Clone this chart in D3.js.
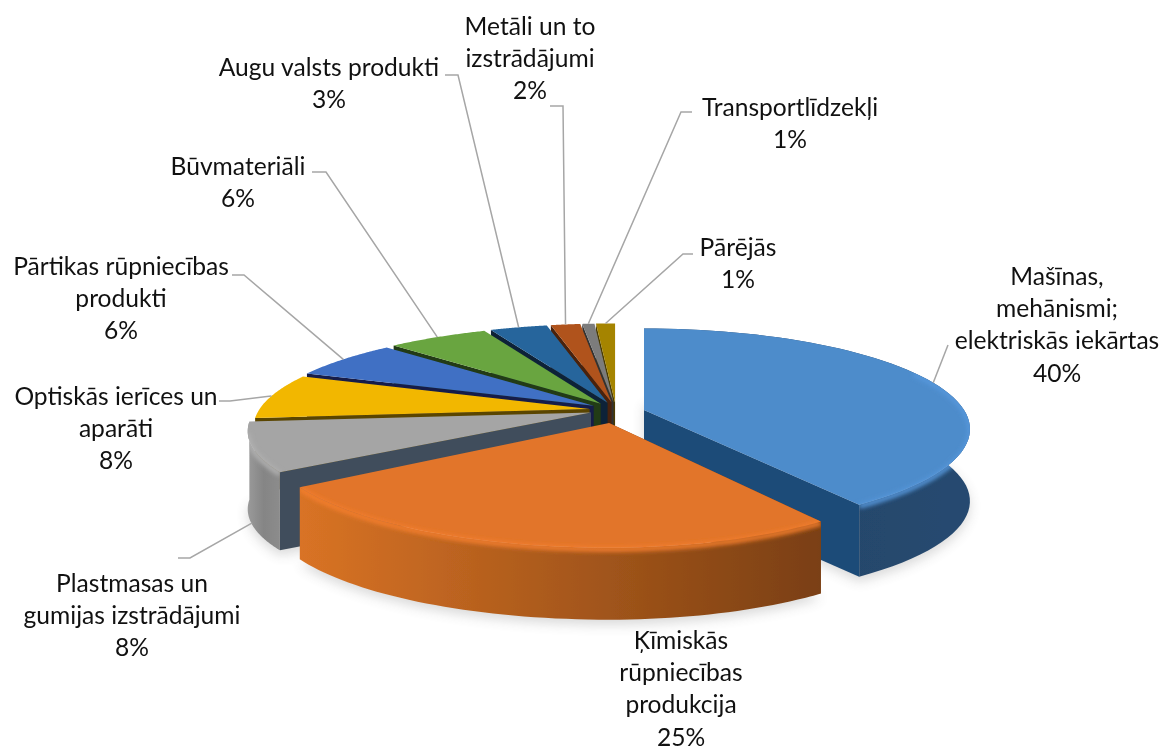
<!DOCTYPE html>
<html><head><meta charset="utf-8">
<script src="https://cdn.jsdelivr.net/npm/d3@7"></script>
<style>html,body{margin:0;padding:0;background:#fff}svg{display:block}text{font-family:Lato,"Open Sans",sans-serif;font-size:24.6px;fill:#111;text-anchor:middle}</style>
</head><body><svg id="c" width="1162" height="746"></svg>
<script>
// --- data (share of total, %) ---
const categories = ["Mašīnas, mehānismi; elektriskās iekārtas","Ķīmiskās rūpniecības produkcija","Plastmasas un gumijas izstrādājumi","Optiskās ierīces un aparāti","Pārtikas rūpniecības produkti","Būvmateriāli","Augu valsts produkti","Metāli un to izstrādājumi","Transportlīdzekļi","Pārējās"];
const values = [40.4,25,8.1,7.5,6.4,5.8,3.3,1.7,0.7,1.1];
const topColors = ["#4e8ccb","#e2752a","#a5a5a5","#f2b705","#3f6fc4","#69a53f","#25659c","#b0521a","#7c7c7c","#a58400"];
const cutColors = ["#1e4b78","#8a4514","#414d5b","#5a4500","#141f4a","#233a14","#0d2238","#4a2208","#333333","#4a3b00"];
// --- label layout: text lines, centre x, first baseline, leader elbow ---
const labelLines = [["Mašīnas,","mehānismi;","elektriskās iekārtas"],["Ķīmiskās","rūpniecības","produkcija"],["Plastmasas un","gumijas izstrādājumi"],["Optiskās ierīces un","aparāti"],["Pārtikas rūpniecības","produkti"],["Būvmateriāli"],["Augu valsts produkti"],["Metāli un to","izstrādājumi"],["Transportlīdzekļi"],["Pārējās"]];
const labelX = [1057,681,132,116,121,238,329,530,790,738];
const labelY = [285,649,592,405,275,175,76,35,116,256];
const leaderPts = [[[948,345]],null,[[178,558],[190,558]],[[219,401],[230,401]],[[232,275],[244,275]],[[312,172],[326,172]],[[445,75],[458,75]],[[550,106],[563,106]],[[692,112],[681,112]],[[693,254],[683,254]]];

// --- projection parameters ---
const cx=616, cy=410, k=0.19, E=0.075;
const pxShift = {0:[28,0],1:[-7,13]};      // strongly exploded slices
const ax = i => i===0?{l:318,r:320}:i===1?{l:335,r:315}:i===2?{l:337,r:337}:{l:330,r:330};
const by = i => i===0?97:i===1?101:94;
const depthOf = i => i===2?78:72;

const pie = d3.pie().sort(null).value(d=>d)(values);
const arcs = pie.map((p,i)=>({i,a0:p.startAngle,a1:p.endAngle,mid:(p.startAngle+p.endAngle)/2}));
function origin(s){
  if(pxShift[s.i]) return pxShift[s.i];
  return [355*E*Math.sin(s.mid),-101*E*Math.cos(s.mid)];
}
function proj(s,a,r=1,dz=0){
  const X=r*Math.sin(a),Z=r*Math.cos(a),q=1/(1+k*Z),A=ax(s.i),o=origin(s);
  return [cx+o[0]+(X<0?A.l:A.r)*X*q, cy+o[1]-by(s.i)*Z*q+dz];
}
const line=d3.line();
function rimPts(s,dz=0,from=0,to=1){return d3.range(from,to+1e-4,(to-from)/60).map(t=>proj(s,s.a0+(s.a1-s.a0)*t,1,dz));}
const svg=d3.select("#c");
const defs=svg.append("defs");
const mkBlur=(id,sd)=>defs.append("filter").attr("id",id).attr("filterUnits","userSpaceOnUse").attr("x",0).attr("y",0).attr("width",1162).attr("height",746).append("feGaussianBlur").attr("stdDeviation",sd);
mkBlur("b1",2.2);mkBlur("b2",6);mkBlur("b0",0.55);
// side gradients
const sideStops={0:["#284a6e","#24466a","#264a70"],1:["#d97325","#a9591c","#7a3f12"],2:["#9a9a9a","#858585","#8c8c8c"]};
Object.keys(sideStops).forEach(i=>{
  const s=arcs[i],xs=rimPts(s).map(p=>p[0]);
  const g=defs.append("linearGradient").attr("id","side"+i).attr("gradientUnits","userSpaceOnUse")
    .attr("x1",d3.min(xs)).attr("x2",d3.max(xs)).attr("y1",0).attr("y2",0);
  sideStops[i].forEach((c,j)=>g.append("stop").attr("offset",j/2).attr("stop-color",c));
  // silhouette of the piece: keeps the soft bevel inside its outline
  const tip=proj(s,0,0);
  const cp=defs.append("clipPath").attr("id","clip"+i);
  cp.append("path").attr("d",line([tip].concat(rimPts(s)))+"Z");
  cp.append("path").attr("d",line(rimPts(s).concat(rimPts(s,depthOf(+i)).reverse()))+"Z");
});
// soft ground shadow
const shadow=svg.append("g").attr("filter","url(#b2)").attr("opacity",0.22);
[arcs[0],arcs[1],arcs[2]].forEach(s=>{
  shadow.append("path").attr("d",line(rimPts(s,depthOf(s.i)+5).concat([proj(s,0,0,depthOf(s.i))]))+"Z").attr("fill","#555");
});
// painter's order: fan from back to front, then exploded blue, then orange
const order=[9,8,7,6,5,4,3,2,0,1];
// portion of each big slice's rim that faces the viewer (for the soft bevel)
const bevelSpan={0:[0.45,1],1:[0,1],2:[0,0.8]};
const pie3d=svg.append("g").attr("filter","url(#b0)");
order.forEach(i=>{
  const s=arcs[i],g=pie3d.append("g"),d=depthOf(i),tip=proj(s,0,0),tipB=proj(s,0,0,d);
  const p0=proj(s,s.a0),p1=proj(s,s.a1),q0=proj(s,s.a0,1,d),q1=proj(s,s.a1,1,d);
  // cut face that looks towards the viewer
  if(i===0) g.append("path").attr("d",line([tip,p1,q1,tipB])+"Z").attr("fill",cutColors[i]);
  else g.append("path").attr("d",line([tip,p0,q0,tipB])+"Z").attr("fill",cutColors[i]);
  // outer wall (only the big pieces show one)
  if(i<=2) g.append("path").attr("d",line(rimPts(s).concat(rimPts(s,d).reverse()))+"Z").attr("fill",`url(#side${i})`);
  // top face
  g.append("path").attr("d",line([tip].concat(rimPts(s)))+"Z").attr("fill",topColors[i]);
  // bevel highlight, blurred across the edge between top and wall
  if(i<=2){
    const c=d3.color(topColors[i]).brighter(0.2);
    g.append("g").attr("clip-path",`url(#clip${i})`)
      .append("path").attr("d",line(rimPts(s,1.5,bevelSpan[i][0],bevelSpan[i][1]))).attr("fill","none").attr("stroke",c).attr("stroke-width",5).attr("filter","url(#b1)");
  }
});
// leaders
const leaderDrop=[0,0,76,0,0,0,0,0,0,0];
const leaders=svg.append("g").attr("fill","none").attr("stroke","#a6a6a6").attr("stroke-width",1.5);
arcs.forEach(s=>{
  if(!leaderPts[s.i])return;
  const end=proj(s,s.mid,1,leaderDrop[s.i]);
  leaders.append("path").attr("d",line(leaderPts[s.i].concat([end])));
});
// labels
const lh=32.2;
arcs.forEach(s=>{
  const t=svg.append("text");
  const rows=labelLines[s.i].concat([Math.round(values[s.i])+"%"]);
  rows.forEach((r,j)=>t.append("tspan").attr("x",labelX[s.i]).attr("y",labelY[s.i]+j*lh).text(r));
});
</script></body></html>
